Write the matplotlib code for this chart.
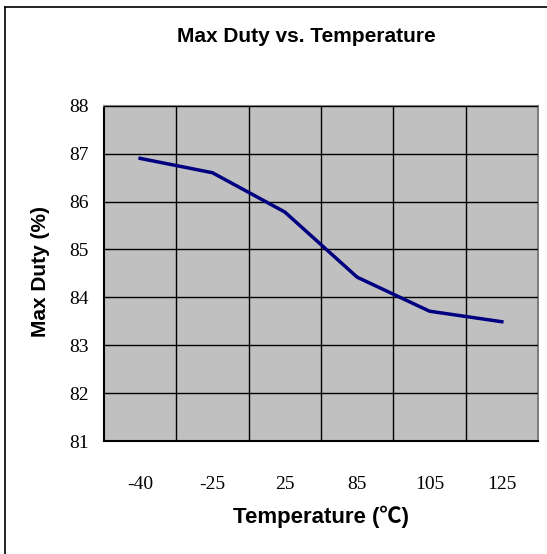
import numpy as np
import matplotlib
matplotlib.use('Agg')
import matplotlib.pyplot as plt
from matplotlib.lines import Line2D

# 数据
temps = ['-40', '-25', '25', '85', '105', '125']
max_duty = [86.9, 86.6, 85.78, 84.42, 83.71, 83.49]
y_ticks = [81, 82, 83, 84, 85, 86, 87, 88]

W, H = 547, 554
fig = plt.figure(figsize=(W / 100, H / 100), dpi=100)
fig.patch.set_facecolor('white')

ax = fig.add_axes([104 / W, 1 - 441 / H, (538 - 104) / W, (441 - 105.7) / H])
ax.set_facecolor('#C0C0C0')

x = np.arange(len(temps))
ax.plot(x, max_duty, color='#000080', lw=2.5, solid_joinstyle='miter', zorder=3)

ax.set_xlim(-0.5, len(temps) - 0.5)
ax.set_ylim(81, 88)
ax.set_yticks(y_ticks)
ax.set_xticks(x)
ax.set_xticklabels(temps)
ax.set_xticks(x[:-1] + 0.5, minor=True)

ax.grid(True, which='major', axis='y', color='black', lw=1.0)
ax.grid(True, which='minor', axis='x', color='black', lw=1.0)
ax.grid(False, which='major', axis='x')
ax.set_axisbelow(False)

ax.tick_params(which='both', length=0)
ax.tick_params(axis='y', pad=11)
ax.tick_params(axis='x', pad=25)
for lbl in ax.get_xticklabels() + ax.get_yticklabels():
    lbl.set_fontfamily('Liberation Serif')
    lbl.set_fontsize(14)
for lbl in ax.get_yticklabels():
    lbl.set_verticalalignment('center_baseline')

ax.spines['left'].set_color('black')
ax.spines['bottom'].set_color('black')
ax.spines['top'].set_color('#808080')
ax.spines['right'].set_color('#808080')
for s in ax.spines.values():
    s.set_linewidth(1.5)

sans = ['Liberation Sans', 'Noto Sans CJK SC', 'DejaVu Sans']
fig.text(306 / W, 1 - 37 / H, 'Max Duty vs. Temperature', ha='center', va='center',
         fontsize=15, fontweight='bold', family=sans)
fig.text(40 / W, 1 - 271 / H, 'Max Duty (%)', ha='center', va='center', rotation=90,
         fontsize=15, fontweight='bold', family=sans)
fig.text(321 / W, 1 - 517 / H, 'Temperature (℃)', ha='center', va='center',
         fontsize=16, fontweight='bold', family=sans)

# 外框（只有左边和上边可见）
fig.add_artist(Line2D([4.7 / W, 4.7 / W], [0, 1 - 7 / H], color='black', lw=1.2))
fig.add_artist(Line2D([4.7 / W, 1], [1 - 7 / H, 1 - 7 / H], color='black', lw=1.2))

fig.savefig('out.png', dpi=100)
